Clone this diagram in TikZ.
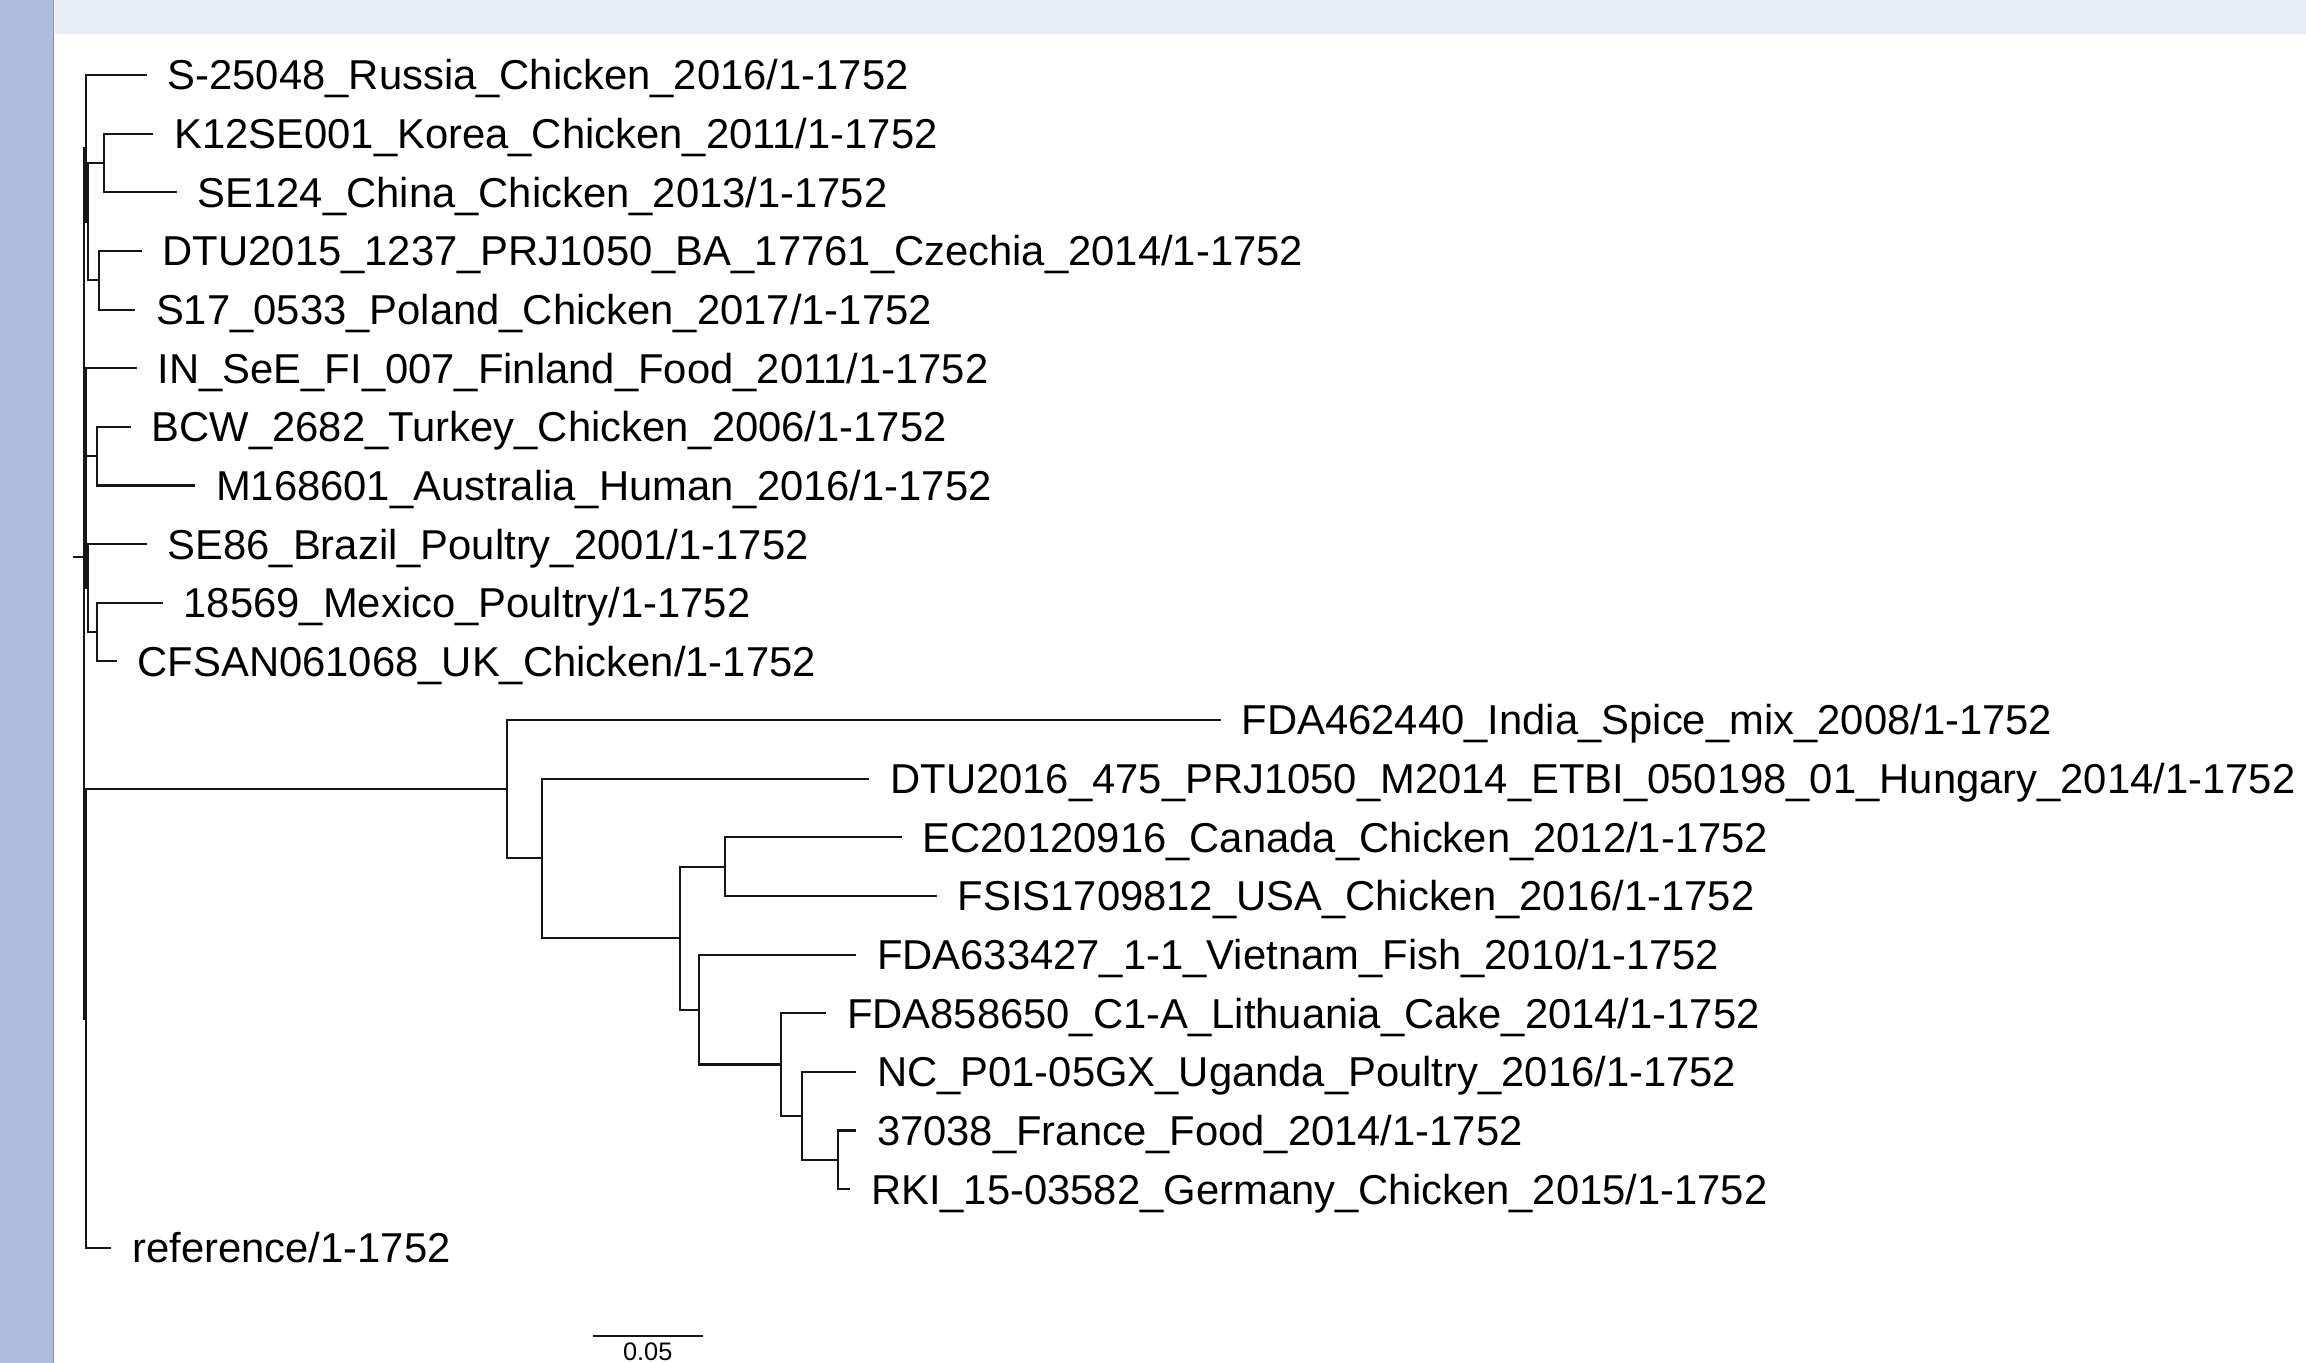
\documentclass[tikz,border=0pt]{standalone}
\usepackage{fontspec}
\setmainfont{Liberation Sans}
\usepackage{xcolor}
\usepackage{tikz}

\definecolor{panelblue}{RGB}{174,188,224}
\definecolor{paneledge}{RGB}{126,144,196}
\definecolor{bandgray}{RGB}{233,237,246}
\definecolor{treeline}{RGB}{22,22,22}

\newcommand{\leaffont}{\fontsize{11.88pt}{14pt}\selectfont}
\newcommand{\barfont}{\fontsize{7.2pt}{9pt}\selectfont}

\tikzset{
    branch/.style={draw=treeline, line width=0.6pt},
    leaf/.style={anchor=west, inner xsep=0.21cm, inner ysep=0pt, outer sep=0pt,
        text height=8.5pt, text depth=0pt, font=\leaffont, text=black}
}

\begin{document}
\begin{tikzpicture}[x=0.01cm, y=-0.586cm]
    % Window frame
    \useasboundingbox (0,-1.28) rectangle (2306,21.9625);
    \clip (0,-1.28) rectangle (2306,21.9625);
    \fill[white] (0,-1.28) rectangle (2306,21.9625);
    \fill[panelblue] (0,-1.28) rectangle (53,21.9625);
    \draw[paneledge, line width=0.5pt] (53.5,-1.28) -- (53.5,21.9625);
    \fill[bandgray] (55,-1.28) rectangle (2306,-0.70);

    % Internal nodes
    \coordinate (stub) at (72.7,8.22);
    \coordinate (root) at (83.8,8.22);
    \coordinate (d) at (85.8,1.25);
    \coordinate (c) at (87.8,2.5);
    \coordinate (kc) at (104.3,1.5);
    \coordinate (cp) at (99.3,3.5);
    \coordinate (h) at (85.8,6.875);
    \coordinate (ta) at (97.3,6.5);
    \coordinate (f) at (87.8,8.75);
    \coordinate (mu) at (96.7,9.5);
    \coordinate (g) at (85.8,16.09);
    \coordinate (r1) at (506.7,12.18);
    \coordinate (r2) at (541.7,13.36);
    \coordinate (r3) at (680,14.72);
    \coordinate (r4) at (725,13.5);
    \coordinate (r5) at (699.3,15.94);
    \coordinate (r6) at (780.7,16.875);
    \coordinate (r7) at (801.7,17.75);
    \coordinate (r8) at (838.3,18.5);

    % Leaves
    \node[leaf] (russia) at (146.7,0) {S-25048\_Russia\_Chicken\_2016/1-1752};
    \node[leaf] (korea) at (153.3,1) {K12SE001\_Korea\_Chicken\_2011/1-1752};
    \node[leaf] (china) at (176.7,2) {SE124\_China\_Chicken\_2013/1-1752};
    \node[leaf] (czechia) at (141.7,3) {DTU2015\_1237\_PRJ1050\_BA\_17761\_Czechia\_2014/1-1752};
    \node[leaf] (poland) at (135,4) {S17\_0533\_Poland\_Chicken\_2017/1-1752};
    \node[leaf] (finland) at (136.7,5) {IN\_SeE\_FI\_007\_Finland\_Food\_2011/1-1752};
    \node[leaf] (turkey) at (130.7,6) {BCW\_2682\_Turkey\_Chicken\_2006/1-1752};
    \node[leaf] (australia) at (195,7) {M168601\_Australia\_Human\_2016/1-1752};
    \node[leaf] (brazil) at (146.7,8) {SE86\_Brazil\_Poultry\_2001/1-1752};
    \node[leaf] (mexico) at (162.7,9) {18569\_Mexico\_Poultry/1-1752};
    \node[leaf] (uk) at (116.7,10) {CFSAN061068\_UK\_Chicken/1-1752};
    \node[leaf] (india) at (1220.7,11) {FDA462440\_India\_Spice\_mix\_2008/1-1752};
    \node[leaf] (hungary) at (869.3,12) {DTU2016\_475\_PRJ1050\_M2014\_ETBI\_050198\_01\_Hungary\_2014/1-1752};
    \node[leaf] (canada) at (901.7,13) {EC20120916\_Canada\_Chicken\_2012/1-1752};
    \node[leaf] (usa) at (936.7,14) {FSIS1709812\_USA\_Chicken\_2016/1-1752};
    \node[leaf] (vietnam) at (856,15) {FDA633427\_1-1\_Vietnam\_Fish\_2010/1-1752};
    \node[leaf] (lithuania) at (826,16) {FDA858650\_C1-A\_Lithuania\_Cake\_2014/1-1752};
    \node[leaf] (uganda) at (856,17) {NC\_P01-05GX\_Uganda\_Poultry\_2016/1-1752};
    \node[leaf] (france) at (856,18) {37038\_France\_Food\_2014/1-1752};
    \node[leaf] (germany) at (850,19) {RKI\_15-03582\_Germany\_Chicken\_2015/1-1752};
    \node[leaf] (reference) at (111.4,20) {reference/1-1752};

    % Upper group
    \draw[branch] (stub) -- (root);
    \draw[branch] (root) |- (d);
    \draw[branch] (root) |- (h);
    \draw[branch] (root) |- (g);
    \draw[branch] (d) |- (russia.west);
    \draw[branch] (d) |- (c);
    \draw[branch] (c) |- (kc);
    \draw[branch] (c) |- (cp);
    \draw[branch] (kc) |- (korea.west);
    \draw[branch] (kc) |- (china.west);
    \draw[branch] (cp) |- (czechia.west);
    \draw[branch] (cp) |- (poland.west);
    \draw[branch] (h) |- (finland.west);
    \draw[branch] (h) |- (ta);
    \draw[branch] (h) |- (f);
    \draw[branch] (ta) |- (turkey.west);
    \draw[branch] (ta) |- (australia.west);
    \draw[branch] (f) |- (brazil.west);
    \draw[branch] (f) |- (mu);
    \draw[branch] (mu) |- (mexico.west);
    \draw[branch] (mu) |- (uk.west);

    % Lower group
    \draw[branch] (g) |- (r1);
    \draw[branch] (g) |- (reference.west);
    \draw[branch] (r1) |- (india.west);
    \draw[branch] (r1) |- (r2);
    \draw[branch] (r2) |- (hungary.west);
    \draw[branch] (r2) |- (r3);
    \draw[branch] (r3) |- (r4);
    \draw[branch] (r3) |- (r5);
    \draw[branch] (r4) |- (canada.west);
    \draw[branch] (r4) |- (usa.west);
    \draw[branch] (r5) |- (vietnam.west);
    \draw[branch] (r5) |- (r6);
    \draw[branch] (r6) |- (lithuania.west);
    \draw[branch] (r6) |- (r7);
    \draw[branch] (r7) |- (uganda.west);
    \draw[branch] (r7) |- (r8);
    \draw[branch] (r8) |- (france.west);
    \draw[branch] (r8) |- (germany.west);

    % Scale bar
    \coordinate (barleft) at (592.5,21.50);
    \coordinate (barright) at (703,21.50);
    \draw[branch] (barleft) -- (barright);
    \node[anchor=north, inner sep=0pt, text height=5.1pt, text depth=0pt, font=\barfont]
        (barlabel) at (647.75,21.60) {0.05};
\end{tikzpicture}
\end{document}
